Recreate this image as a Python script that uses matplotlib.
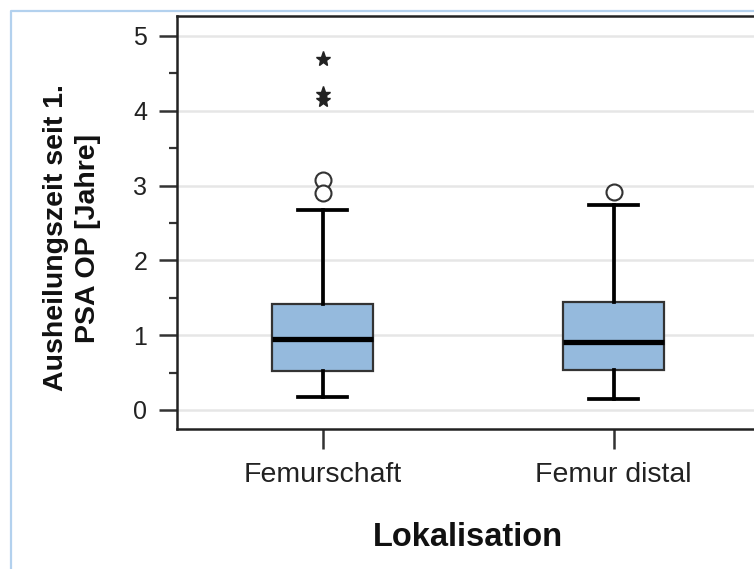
import matplotlib
matplotlib.use("Agg")
import matplotlib.pyplot as plt
from matplotlib.lines import Line2D
from matplotlib.ticker import MultipleLocator

plt.rcParams['font.family'] = ['Liberation Sans', 'DejaVu Sans']

# Healing time since first PSA operation, by localisation (years)
categories = ["Femurschaft", "Femur distal"]
q1 = [0.52, 0.53]
median = [0.95, 0.91]
q3 = [1.42, 1.44]
whisker_low = [0.17, 0.15]
whisker_high = [2.67, 2.74]
outliers = [[3.07, 2.90], [2.92]]          # mild outliers (circles)
extremes = [[4.69, 4.22, 4.15], []]        # extreme values (stars)

W, H = 754, 569
fig = plt.figure(figsize=(W / 100, H / 100), dpi=100)
fig.patch.set_facecolor("white")

# thin light-blue frame around the figure
frame = Line2D([11 / W, 11 / W, 1.0], [0.0, 1 - 11 / H, 1 - 11 / H],
               transform=fig.transFigure, color="#b3d1ee", lw=1.6)
fig.add_artist(frame)

ax = fig.add_axes([177 / W, 1 - 429 / H, (759 - 177) / W, 413 / H])

positions = [1, 2]
stats = []
for i, name in enumerate(categories):
    stats.append(dict(label=name, q1=q1[i], med=median[i], q3=q3[i],
                      whislo=whisker_low[i], whishi=whisker_high[i],
                      fliers=outliers[i]))

ax.bxp(stats, positions=positions, widths=0.35, capwidths=0.17,
       patch_artist=True, showfliers=True,
       boxprops=dict(facecolor="#95badd", edgecolor="#333333", linewidth=1.6),
       medianprops=dict(color="black", linewidth=3.8),
       whiskerprops=dict(color="black", linewidth=2.7),
       capprops=dict(color="black", linewidth=2.7),
       flierprops=dict(marker="o", markersize=11.5, markerfacecolor="white",
                       markeredgecolor="#333333", markeredgewidth=1.5),
       zorder=3)

for pos, vals in zip(positions, extremes):
    if vals:
        ax.plot([pos] * len(vals), vals, linestyle="none", marker="*",
                markersize=11, color="#222222", zorder=4)

ax.set_xlim(0.5, 2.5)
ax.set_ylim(-0.254, 5.267)
ax.yaxis.set_major_locator(MultipleLocator(1))
ax.yaxis.set_minor_locator(MultipleLocator(0.5))
ax.grid(axis="y", which="major", color="#e6e6e6", linewidth=1.8, zorder=0)
ax.set_axisbelow(True)

for side in ("left", "bottom", "top", "right"):
    ax.spines[side].set_color("#222222")
    ax.spines[side].set_linewidth(1.8)

ax.tick_params(axis="y", which="major", length=13, width=1.8, color="#333333",
               pad=8.5, labelsize=18, labelcolor="#222222")
ax.tick_params(axis="y", which="minor", length=6, width=1.6, color="#333333")
ax.tick_params(axis="x", which="major", length=14.5, width=1.8, color="#333333",
               pad=9.5, labelsize=20.5, labelcolor="#222222")
ax.set_xticks(positions)
ax.set_xticklabels(categories)

ax.set_xlabel("Lokalisation", fontsize=23.5, fontweight="bold", color="#111111")
ax.xaxis.set_label_coords(0.5, (429 - 538) / 413)
ax.xaxis.label.set_va("center")

ax.set_ylabel("Ausheilungszeit seit 1.\nPSA OP [Jahre]", fontsize=20.5,
              fontweight="bold", color="#111111", multialignment="center",
              linespacing=1.3)
ax.yaxis.set_label_coords((72 - 177) / 582, (429 - 238) / 413)
ax.yaxis.label.set_va("center")
ax.yaxis.label.set_ha("center")

fig.savefig("out.png", dpi=100)
